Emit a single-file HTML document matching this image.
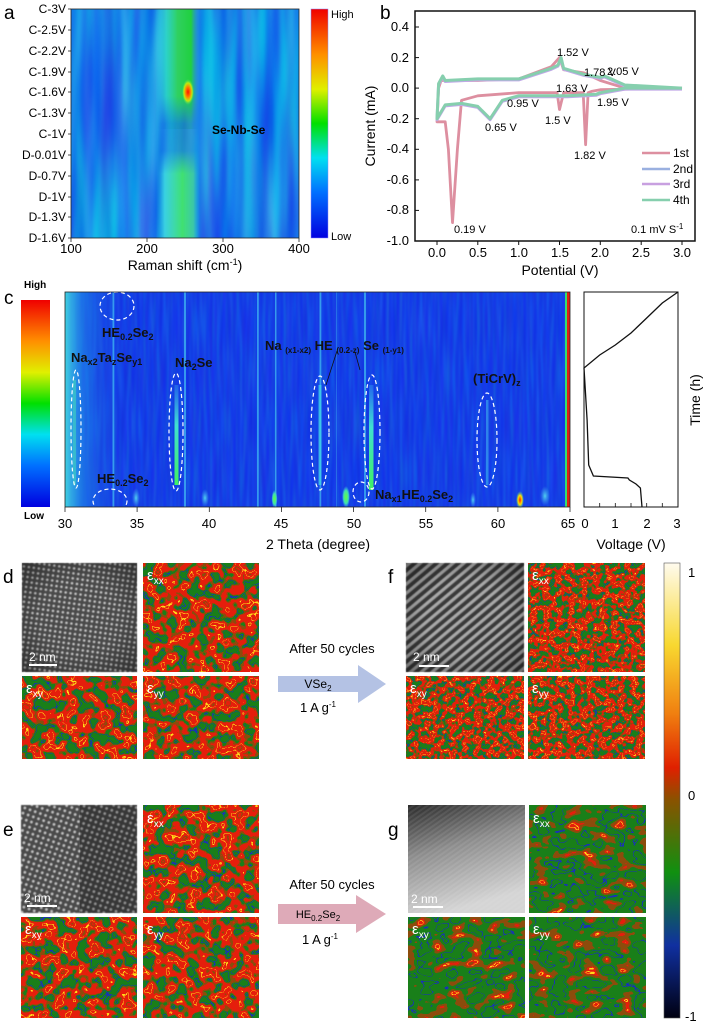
<!DOCTYPE html>
<html><head><meta charset="utf-8"><style>
html,body{margin:0;padding:0;background:#fff;}
svg{display:block;font-family:"Liberation Sans",sans-serif;}
filter{color-interpolation-filters:sRGB;}
</style></head><body>
<svg width="705" height="1024" viewBox="0 0 705 1024" xmlns="http://www.w3.org/2000/svg">
<defs>
<linearGradient id="jet" x1="0" y1="1" x2="0" y2="0">
<stop offset="0" stop-color="#0000e0"/><stop offset="0.2" stop-color="#0070ff"/><stop offset="0.35" stop-color="#00e0f0"/><stop offset="0.5" stop-color="#00e000"/><stop offset="0.65" stop-color="#e0f000"/><stop offset="0.8" stop-color="#ff9000"/><stop offset="1" stop-color="#f00000"/>
</linearGradient>
<linearGradient id="scb" x1="0" y1="0" x2="0" y2="1">
<stop offset="0" stop-color="#fffbee"/><stop offset="0.18" stop-color="#f8d830"/><stop offset="0.33" stop-color="#f08010"/><stop offset="0.45" stop-color="#e02000"/><stop offset="0.52" stop-color="#8a5200"/><stop offset="0.68" stop-color="#109010"/><stop offset="0.84" stop-color="#1030a0"/><stop offset="1" stop-color="#000010"/>
</linearGradient>
<filter id="blueA" x="0" y="0" width="1" height="1" color-interpolation-filters="sRGB">
<feTurbulence type="fractalNoise" baseFrequency="0.07 0.006" numOctaves="2" seed="3"/>
<feComponentTransfer><feFuncR type="table" tableValues="0.0 0.05 0.15 0.3"/><feFuncG type="table" tableValues="0.2 0.4 0.65 0.85"/><feFuncB type="table" tableValues="0.85 0.9 0.92 0.95"/><feFuncA type="linear" slope="0" intercept="1"/></feComponentTransfer>
</filter>
<filter id="blueC" x="0" y="0" width="1" height="1" color-interpolation-filters="sRGB">
<feTurbulence type="fractalNoise" baseFrequency="0.3 0.02" numOctaves="1" seed="5"/>
<feComponentTransfer><feFuncR type="table" tableValues="0.05 0.08 0.12"/><feFuncG type="table" tableValues="0.15 0.25 0.4"/><feFuncB type="table" tableValues="0.85 0.9 0.95"/><feFuncA type="linear" slope="0" intercept="1"/></feComponentTransfer>
</filter>
<filter id="strain" x="0" y="0" width="1" height="1" color-interpolation-filters="sRGB">
<feTurbulence type="fractalNoise" baseFrequency="0.09" numOctaves="2" seed="7"/>
<feColorMatrix type="matrix" values="1 0 0 0 0  1 0 0 0 0  1 0 0 0 0  0 0 0 0 1"/>
<feComponentTransfer>
<feFuncR type="discrete" tableValues=".1 .1 .1 .1 .1 .1 .1 .1 .1 .1 .1 .1 .1 .1 .1 .1 .1 .1 .55 .55 .9 .9 .9 .9 .9 1 .9 .9 .9 .9 .55 .55 .9 .9 .9 .9 .9 .9 .9 .9"/>
<feFuncG type="discrete" tableValues=".5 .5 .5 .5 .5 .5 .5 .5 .5 .5 .5 .5 .5 .5 .5 .2 .5 .5 .3 .3 .12 .12 .12 .12 .12 .85 .12 .12 .12 .12 .3 .3 .12 .12 .12 .12 .12 .12 .12 .12"/>
<feFuncB type="discrete" tableValues=".1 .1 .1 .1 .1 .1 .1 .1 .1 .1 .1 .1 .1 .1 .1 .7 .1 .1 .05 .05 .05 .05 .05 .05 .05 .1 .05 .05 .05 .05 .05 .05 .05 .05 .05 .05 .05 .05 .05 .05"/>
</feComponentTransfer>
</filter>
<filter id="strainF" x="0" y="0" width="1" height="1" color-interpolation-filters="sRGB">
<feTurbulence type="fractalNoise" baseFrequency="0.16" numOctaves="2" seed="11"/>
<feColorMatrix type="matrix" values="1 0 0 0 0  1 0 0 0 0  1 0 0 0 0  0 0 0 0 1"/>
<feComponentTransfer>
<feFuncR type="discrete" tableValues=".1 .1 .1 .1 .1 .1 .1 .1 .1 .1 .1 .1 .1 .1 .1 .1 .1 .1 .55 .55 .9 .9 .9 .9 .9 1 .9 .9 .9 .9 .55 .55 .9 .9 .9 .9 .9 .9 .9 .9"/>
<feFuncG type="discrete" tableValues=".5 .5 .5 .5 .5 .5 .5 .5 .5 .5 .5 .5 .5 .5 .5 .2 .5 .5 .3 .3 .12 .12 .12 .12 .12 .85 .12 .12 .12 .12 .3 .3 .12 .12 .12 .12 .12 .12 .12 .12"/>
<feFuncB type="discrete" tableValues=".1 .1 .1 .1 .1 .1 .1 .1 .1 .1 .1 .1 .1 .1 .1 .7 .1 .1 .05 .05 .05 .05 .05 .05 .05 .1 .05 .05 .05 .05 .05 .05 .05 .05 .05 .05 .05 .05 .05 .05"/>
</feComponentTransfer>
</filter>
<filter id="strainG" x="0" y="0" width="1" height="1" color-interpolation-filters="sRGB">
<feTurbulence type="fractalNoise" baseFrequency="0.06 0.1" numOctaves="2" seed="4"/>
<feColorMatrix type="matrix" values="1 0 0 0 0  1 0 0 0 0  1 0 0 0 0  0 0 0 0 1"/>
<feComponentTransfer>
<feFuncR type="discrete" tableValues=".1 .1 .1 .1 .1 .1 .1 .1 .1 .1 .1 .1 .1 .1 .1 .1 .1 .1 .1 .1 .1 .1 .1 .55 .55 .55 .55 .55 .9 .9 1 .9 .9 .9 .55 .55 .55 .55 .55 .55"/>
<feFuncG type="discrete" tableValues=".5 .5 .5 .5 .5 .5 .5 .5 .5 .5 .5 .5 .5 .5 .5 .5 .2 .5 .5 .5 .5 .5 .5 .3 .3 .3 .3 .3 .12 .12 .85 .12 .12 .12 .3 .3 .3 .3 .3 .3"/>
<feFuncB type="discrete" tableValues=".1 .1 .1 .1 .1 .1 .1 .1 .1 .1 .1 .1 .1 .1 .1 .1 .7 .1 .1 .1 .1 .1 .1 .05 .05 .05 .05 .05 .05 .05 .1 .05 .05 .05 .05 .05 .05 .05 .05 .05"/>
</feComponentTransfer>
</filter>
<filter id="soft" color-interpolation-filters="sRGB"><feGaussianBlur stdDeviation="0.6"/></filter>
<pattern id="dotsD" width="5" height="5" patternUnits="userSpaceOnUse" patternTransform="rotate(8)"><rect width="5" height="5" fill="#4a4a4a"/><circle cx="2.5" cy="2.5" r="1.3" fill="#c8c8c8"/></pattern>
<pattern id="dotsE" width="5.5" height="5.5" patternUnits="userSpaceOnUse" patternTransform="rotate(20)"><rect width="5.5" height="5.5" fill="#4a4a4a"/><circle cx="2.7" cy="2.7" r="1.4" fill="#c0c0c0"/></pattern>
<pattern id="strF" width="7" height="7" patternUnits="userSpaceOnUse" patternTransform="rotate(-40)"><rect width="7" height="7" fill="#3a3a3a"/><rect width="7" height="3.2" fill="#a8a8a8"/></pattern>
<pattern id="strG" width="4" height="4" patternUnits="userSpaceOnUse" patternTransform="rotate(-35)"><rect width="4" height="4" fill="#000" fill-opacity="0.12"/><rect width="4" height="2" fill="#fff" fill-opacity="0.08"/></pattern>
<linearGradient id="gBg" x1="0" y1="0" x2="0.3" y2="1"><stop offset="0" stop-color="#303030"/><stop offset="0.45" stop-color="#a0a0a0"/><stop offset="1" stop-color="#f2f2f2"/></linearGradient>
<radialGradient id="vig" cx="0.5" cy="0.5" r="0.7"><stop offset="0.5" stop-color="#000" stop-opacity="0"/><stop offset="1" stop-color="#000" stop-opacity="0.35"/></radialGradient>
<linearGradient id="bandTop" x1="0" y1="0" x2="1" y2="0"><stop offset="0" stop-color="#30d0e0" stop-opacity="0"/><stop offset="0.25" stop-color="#30e0c0" stop-opacity="0.8"/><stop offset="0.5" stop-color="#30d060"/><stop offset="0.8" stop-color="#20d040"/><stop offset="1" stop-color="#30c0e0" stop-opacity="0"/></linearGradient>
<linearGradient id="bandBot" x1="0" y1="0" x2="1" y2="0"><stop offset="0" stop-color="#30d0e0" stop-opacity="0"/><stop offset="0.2" stop-color="#40e0e0" stop-opacity="0.85"/><stop offset="0.6" stop-color="#40e070"/><stop offset="0.85" stop-color="#40d0a0" stop-opacity="0.9"/><stop offset="1" stop-color="#30c0e0" stop-opacity="0"/></linearGradient>
<linearGradient id="bandMask" x1="0" y1="0" x2="0" y2="1"><stop offset="0" stop-color="#fff"/><stop offset="0.38" stop-color="#fff"/><stop offset="0.5" stop-color="#444"/><stop offset="0.62" stop-color="#444"/><stop offset="0.72" stop-color="#fff"/><stop offset="1" stop-color="#fff"/></linearGradient>
<mask id="bm"><rect x="71" y="9" width="228" height="229" fill="url(#bandMask)"/></mask>
<radialGradient id="hot"><stop offset="0" stop-color="#ff1000"/><stop offset="0.4" stop-color="#ff8000"/><stop offset="0.7" stop-color="#e0f000" stop-opacity="0.8"/><stop offset="1" stop-color="#40e080" stop-opacity="0"/></radialGradient>
<linearGradient id="cLeft" x1="0" y1="0" x2="1" y2="0"><stop offset="0" stop-color="#40d0e0"/><stop offset="0.3" stop-color="#2090e8" stop-opacity="0.6"/><stop offset="1" stop-color="#1a40e0" stop-opacity="0"/></linearGradient>
<linearGradient id="streak" x1="0" y1="0" x2="0" y2="1"><stop offset="0" stop-color="#40c0f0" stop-opacity="0.3"/><stop offset="0.4" stop-color="#40e0d0"/><stop offset="1" stop-color="#40f060"/></linearGradient>
<radialGradient id="spotR"><stop offset="0" stop-color="#ff2000"/><stop offset="0.5" stop-color="#ffe000"/><stop offset="1" stop-color="#40e0a0" stop-opacity="0"/></radialGradient>
<radialGradient id="spotG"><stop offset="0" stop-color="#60ff40"/><stop offset="0.6" stop-color="#40e0b0"/><stop offset="1" stop-color="#40c0f0" stop-opacity="0"/></radialGradient>
<radialGradient id="spotC"><stop offset="0" stop-color="#50d0f0"/><stop offset="1" stop-color="#40a0f0" stop-opacity="0"/></radialGradient>
</defs>

<!-- ===== Panel a ===== -->
<text x="4" y="19" font-size="19">a</text>
<rect x="71" y="9" width="228" height="229" filter="url(#blueA)"/>
<g mask="url(#bm)">
<rect x="155" y="9" width="45" height="120" fill="url(#bandTop)"/>
<rect x="156" y="129" width="44" height="109" fill="url(#bandBot)"/>
</g>
<ellipse cx="188" cy="92" rx="6" ry="13" fill="url(#hot)"/>
<rect x="71" y="9" width="228" height="229" fill="none" stroke="#222" stroke-width="0.8"/>
<text x="212" y="134" font-size="12" font-weight="bold">Se-Nb-Se</text>
<g font-size="12" text-anchor="end">
<text x="66" y="13">C-3V</text><text x="66" y="34">C-2.5V</text><text x="66" y="55">C-2.2V</text><text x="66" y="76">C-1.9V</text><text x="66" y="96">C-1.6V</text><text x="66" y="117">C-1.3V</text><text x="66" y="138">C-1V</text><text x="66" y="159">D-0.01V</text><text x="66" y="180">D-0.7V</text><text x="66" y="201">D-1V</text><text x="66" y="221">D-1.3V</text><text x="66" y="242">D-1.6V</text>
</g>
<g stroke="#222" stroke-width="0.8">
<line x1="68" y1="9" x2="71" y2="9"/><line x1="68" y1="30" x2="71" y2="30"/><line x1="68" y1="51" x2="71" y2="51"/><line x1="68" y1="72" x2="71" y2="72"/><line x1="68" y1="92" x2="71" y2="92"/><line x1="68" y1="113" x2="71" y2="113"/><line x1="68" y1="134" x2="71" y2="134"/><line x1="68" y1="155" x2="71" y2="155"/><line x1="68" y1="176" x2="71" y2="176"/><line x1="68" y1="197" x2="71" y2="197"/><line x1="68" y1="217" x2="71" y2="217"/><line x1="68" y1="238" x2="71" y2="238"/>
<line x1="71" y1="238" x2="71" y2="242"/><line x1="147" y1="238" x2="147" y2="242"/><line x1="223" y1="238" x2="223" y2="242"/><line x1="299" y1="238" x2="299" y2="242"/>
</g>
<g font-size="13" text-anchor="middle"><text x="71" y="253">100</text><text x="147" y="253">200</text><text x="223" y="253">300</text><text x="299" y="253">400</text></g>
<text x="185" y="270" font-size="14" text-anchor="middle">Raman shift (cm<tspan font-size="9" dy="-5">-1</tspan><tspan dy="5">)</tspan></text>
<rect x="311" y="9" width="17" height="229" fill="url(#jet)" stroke="#88f" stroke-width="0.5"/>
<text x="331" y="18" font-size="11">High</text>
<text x="331" y="240" font-size="11">Low</text>

<!-- ===== Panel b ===== -->
<text x="380" y="19" font-size="19">b</text>
<rect x="415" y="11" width="280" height="230" fill="none" stroke="#111" stroke-width="1.5"/>
<g font-size="13" text-anchor="end">
<text x="409" y="31">0.4</text><text x="409" y="62">0.2</text><text x="409" y="92">0.0</text><text x="409" y="123">-0.2</text><text x="409" y="153">-0.4</text><text x="409" y="184">-0.6</text><text x="409" y="214">-0.8</text><text x="409" y="245">-1.0</text>
</g>
<g stroke="#111" stroke-width="1">
<line x1="415" y1="27" x2="419" y2="27"/><line x1="415" y1="57.6" x2="419" y2="57.6"/><line x1="415" y1="88.1" x2="419" y2="88.1"/><line x1="415" y1="118.7" x2="419" y2="118.7"/><line x1="415" y1="149.3" x2="419" y2="149.3"/><line x1="415" y1="179.9" x2="419" y2="179.9"/><line x1="415" y1="210.4" x2="419" y2="210.4"/>
<line x1="437" y1="241" x2="437" y2="245"/><line x1="477.8" y1="241" x2="477.8" y2="245"/><line x1="518.7" y1="241" x2="518.7" y2="245"/><line x1="559.5" y1="241" x2="559.5" y2="245"/><line x1="600.3" y1="241" x2="600.3" y2="245"/><line x1="641.2" y1="241" x2="641.2" y2="245"/><line x1="682" y1="241" x2="682" y2="245"/>
</g>
<g font-size="13" text-anchor="middle"><text x="437" y="257">0.0</text><text x="478" y="257">0.5</text><text x="519" y="257">1.0</text><text x="560" y="257">1.5</text><text x="600" y="257">2.0</text><text x="641" y="257">2.5</text><text x="682" y="257">3.0</text></g>
<text x="560" y="275" font-size="14" text-anchor="middle">Potential (V)</text>
<text transform="translate(375,126) rotate(-90)" font-size="14" text-anchor="middle">Current (mA)</text>
<path d="M682,88.1 L600.3,89.7 L592.2,91.2 L588.1,92.7 L585.6,144.7 L583.2,92.7 L563.6,92.7 L559.5,109.5 L557.1,92.7 L518.7,92.7 L477.8,95.8 L461.5,100.3 L457.4,149.3 L452.5,222.6 L448.4,149.3 L445.2,121.8 L437,121.8 L438.6,88.1 L441.1,80.5 L477.8,80.5 L518.7,78.9 L551.3,66.7 L559.5,57.6 L563.6,69.8 L584,72.9 L600.3,80.5 L624.8,88.1 L682,88.1" fill="none" stroke="#dd8fa0" stroke-width="2.8" stroke-linejoin="round"/>
<path d="M682,88.1 L624.8,88.1 L600.3,92.7 L596.3,94.2 L567.7,95.8 L518.7,95.8 L502.3,100.3 L490.1,118.7 L477.8,106.4 L461.5,103.4 L445.2,104.9 L437,118.7 L438.6,83.6 L442.7,75.9 L445.2,80.5 L477.8,78.9 L518.7,78.9 L551.3,68.3 L557.9,65.2 L561.1,57.6 L563.6,68.3 L584,74.4 L600.3,77.4 L604.4,75.9 L624.8,85 L682,88.1" fill="none" stroke="#c0a8e8" stroke-width="3" stroke-linejoin="round" transform="translate(0,1)"/>
<path d="M682,88.1 L624.8,88.1 L600.3,92.7 L596.3,94.2 L567.7,95.8 L518.7,95.8 L502.3,100.3 L490.1,118.7 L477.8,106.4 L461.5,103.4 L445.2,104.9 L437,118.7 L438.6,83.6 L442.7,75.9 L445.2,80.5 L477.8,78.9 L518.7,78.9 L551.3,68.3 L557.9,65.2 L561.1,57.6 L563.6,68.3 L584,74.4 L600.3,77.4 L604.4,75.9 L624.8,85 L682,88.1" fill="none" stroke="#86cfae" stroke-width="3" stroke-linejoin="round"/>
<g font-size="11">
<text x="557" y="56">1.52 V</text><text x="584" y="76">1.78 V</text><text x="607" y="75">2.05 V</text><text x="556" y="92">1.63 V</text><text x="507" y="107">0.95 V</text><text x="597" y="106">1.95 V</text><text x="485" y="131">0.65 V</text><text x="545" y="124">1.5 V</text><text x="574" y="159">1.82 V</text><text x="454" y="233">0.19 V</text><text x="631" y="233">0.1 mV S<tspan font-size="8" dy="-4">-1</tspan></text>
</g>
<g stroke-width="2.5"><line x1="642" y1="153" x2="670" y2="153" stroke="#dd8fa0"/><line x1="642" y1="169" x2="670" y2="169" stroke="#9ab0e0"/><line x1="642" y1="184" x2="670" y2="184" stroke="#c8a0e0"/><line x1="642" y1="200" x2="670" y2="200" stroke="#86cfae"/></g>
<g font-size="12"><text x="673" y="157">1st</text><text x="673" y="173">2nd</text><text x="673" y="188">3rd</text><text x="673" y="204">4th</text></g>

<!-- ===== Panel c ===== -->
<text x="4" y="304" font-size="19">c</text>
<text x="24" y="288" font-size="10" font-weight="bold">High</text>
<rect x="21" y="300" width="29" height="207" fill="url(#jet)"/>
<text x="24" y="519" font-size="10" font-weight="bold">Low</text>
<rect x="65" y="292" width="505" height="215" filter="url(#blueC)"/>
<rect x="65" y="292" width="60" height="215" fill="url(#cLeft)"/>
<g fill="#40b8f0" opacity="0.75">
<rect x="112.5" y="292" width="1.8" height="215"/><rect x="184" y="292" width="2" height="215"/><rect x="257" y="292" width="1.8" height="215"/><rect x="275" y="292" width="1.5" height="215"/><rect x="319.5" y="292" width="1.8" height="215"/><rect x="336" y="292" width="1" height="215" opacity="0.5"/><rect x="364" y="292" width="2" height="215"/>
</g>
<rect x="174.5" y="385" width="4" height="100" fill="url(#streak)"/>
<rect x="369" y="385" width="4.5" height="105" fill="url(#streak)"/>
<rect x="318.5" y="385" width="3" height="100" fill="#40d8e8" opacity="0.7"/>
<rect x="486" y="400" width="2.5" height="85" fill="#40b0f0" opacity="0.6"/>
<rect x="73" y="380" width="3" height="105" fill="#40d0c0" opacity="0.6"/>
<ellipse cx="274.5" cy="499" rx="3" ry="9" fill="url(#spotG)"/>
<ellipse cx="346" cy="497" rx="4" ry="11" fill="url(#spotG)"/>
<ellipse cx="520" cy="500" rx="4" ry="9" fill="url(#spotR)"/>
<ellipse cx="545" cy="496" rx="5" ry="10" fill="url(#spotC)"/>
<ellipse cx="136" cy="498" rx="4" ry="10" fill="url(#spotC)"/>
<ellipse cx="205" cy="498" rx="4" ry="9" fill="url(#spotC)"/>
<ellipse cx="473" cy="500" rx="3" ry="8" fill="url(#spotC)"/>
<rect x="565" y="292" width="2" height="215" fill="#30e070"/><rect x="567" y="292" width="3" height="215" fill="#e02010"/>
<g fill="none" stroke="#fff" stroke-width="1.2" stroke-dasharray="4,3">
<ellipse cx="117" cy="306" rx="17" ry="14"/><ellipse cx="76" cy="429" rx="5" ry="59"/><ellipse cx="176" cy="432" rx="7" ry="59"/><ellipse cx="320" cy="433" rx="9" ry="57"/><ellipse cx="372" cy="432" rx="8" ry="57"/><ellipse cx="487" cy="440" rx="10" ry="47"/><ellipse cx="110" cy="501" rx="17" ry="12"/><ellipse cx="361" cy="492" rx="8" ry="10"/>
</g>
<rect x="65" y="292" width="505" height="215" fill="none" stroke="#222" stroke-width="0.8"/>
<g font-size="13" font-weight="bold" fill="#111">
<text x="102" y="337">HE<tspan font-size="9" dy="3">0.2</tspan><tspan dy="-3">Se</tspan><tspan font-size="9" dy="3">2</tspan></text>
<text x="71" y="362">Na<tspan font-size="9" dy="3">x2</tspan><tspan dy="-3">Ta</tspan><tspan font-size="9" dy="3">z</tspan><tspan dy="-3">Se</tspan><tspan font-size="9" dy="3">y1</tspan></text>
<text x="175" y="367">Na<tspan font-size="9" dy="3">2</tspan><tspan dy="-3">Se</tspan></text>
<text x="265" y="350">Na <tspan font-size="8" dy="3">(x1-x2)</tspan><tspan dy="-3"> HE </tspan><tspan font-size="8" dy="3">(0.2-z)</tspan><tspan dy="-3"> Se </tspan><tspan font-size="8" dy="3">(1-y1)</tspan></text>
<text x="473" y="383">(TiCrV)<tspan font-size="9" dy="3">z</tspan></text>
<text x="97" y="483">HE<tspan font-size="9" dy="3">0.2</tspan><tspan dy="-3">Se</tspan><tspan font-size="9" dy="3">2</tspan></text>
<text x="375" y="499">Na<tspan font-size="9" dy="3">x1</tspan><tspan dy="-3">HE</tspan><tspan font-size="9" dy="3">0.2</tspan><tspan dy="-3">Se</tspan><tspan font-size="9" dy="3">2</tspan></text>
</g>
<g stroke="#111" stroke-width="0.8"><line x1="337" y1="351" x2="326" y2="385"/><line x1="355" y1="352" x2="360" y2="370"/></g>
<g stroke="#222" stroke-width="0.8">
<line x1="65" y1="507" x2="65" y2="512"/><line x1="137.1" y1="507" x2="137.1" y2="512"/><line x1="209.3" y1="507" x2="209.3" y2="512"/><line x1="281.4" y1="507" x2="281.4" y2="512"/><line x1="353.6" y1="507" x2="353.6" y2="512"/><line x1="425.7" y1="507" x2="425.7" y2="512"/><line x1="497.9" y1="507" x2="497.9" y2="512"/><line x1="570" y1="507" x2="570" y2="512"/>
</g>
<g font-size="13" text-anchor="middle"><text x="65" y="528">30</text><text x="137" y="528">35</text><text x="209" y="528">40</text><text x="281" y="528">45</text><text x="354" y="528">50</text><text x="426" y="528">55</text><text x="498" y="528">60</text><text x="568" y="528">65</text></g>
<text x="318" y="549" font-size="14" text-anchor="middle">2 Theta (degree)</text>
<rect x="584" y="292" width="94" height="215" fill="#fff" stroke="#111" stroke-width="1"/>
<path d="M642,507 L640.4,488 L636,484 L629.4,480 L627.9,478 L593.4,476 L588.7,465 L587.1,420 L584,368 L599.7,355 L615.3,345 L631,333 L646.7,318 L662.3,303 L678,292" fill="none" stroke="#111" stroke-width="1.3"/>
<g stroke="#111" stroke-width="0.8"><line x1="599.7" y1="507" x2="599.7" y2="503"/><line x1="615.3" y1="507" x2="615.3" y2="503"/><line x1="631" y1="507" x2="631" y2="503"/><line x1="646.7" y1="507" x2="646.7" y2="503"/><line x1="662.3" y1="507" x2="662.3" y2="503"/></g>
<g font-size="13" text-anchor="middle"><text x="585" y="528">0</text><text x="615" y="528">1</text><text x="647" y="528">2</text><text x="677" y="528">3</text></g>
<text x="631" y="549" font-size="14" text-anchor="middle">Voltage (V)</text>
<text transform="translate(700,400) rotate(-90)" font-size="14" text-anchor="middle">Time (h)</text>

<!-- ===== Panels d-g ===== -->
<text x="3" y="583" font-size="19">d</text>
<rect x="22" y="563" width="115" height="109" fill="url(#dotsD)" filter="url(#soft)"/>
<rect x="22" y="563" width="115" height="109" fill="url(#vig)"/>
<rect x="143" y="563" width="116" height="109" filter="url(#strain)"/>
<rect x="22" y="676" width="115" height="83" filter="url(#strain)"/>
<rect x="143" y="676" width="116" height="83" filter="url(#strain)"/>

<text x="388" y="583" font-size="19">f</text>
<rect x="406" y="563" width="118" height="109" fill="url(#strF)" filter="url(#soft)"/>
<rect x="406" y="563" width="118" height="109" fill="url(#vig)"/>
<rect x="528" y="563" width="117" height="109" filter="url(#strainF)"/>
<rect x="406" y="676" width="118" height="83" filter="url(#strainF)"/>
<rect x="528" y="676" width="117" height="83" filter="url(#strainF)"/>

<text x="3" y="836" font-size="19">e</text>
<rect x="21" y="805" width="116" height="108" fill="url(#dotsE)" filter="url(#soft)"/>
<rect x="80" y="805" width="57" height="108" fill="#000" opacity="0.25"/>
<rect x="143" y="805" width="116" height="108" filter="url(#strain)"/>
<rect x="21" y="917" width="116" height="101" filter="url(#strain)"/>
<rect x="143" y="917" width="116" height="101" filter="url(#strain)"/>

<text x="388" y="836" font-size="19">g</text>
<rect x="408" y="805" width="117" height="108" fill="url(#gBg)"/>
<rect x="408" y="805" width="117" height="108" fill="url(#strG)"/>
<rect x="529" y="805" width="117" height="108" filter="url(#strainG)"/>
<rect x="408" y="917" width="117" height="101" filter="url(#strainG)"/>
<rect x="529" y="917" width="117" height="101" filter="url(#strainG)"/>

<g fill="#fff" font-size="15">
<text x="147" y="580">ε<tspan font-size="10" dy="4">xx</tspan></text>
<text x="26" y="693">ε<tspan font-size="10" dy="4">xy</tspan></text>
<text x="147" y="693">ε<tspan font-size="10" dy="4">yy</tspan></text>
<text x="532" y="580">ε<tspan font-size="10" dy="4">xx</tspan></text>
<text x="410" y="693">ε<tspan font-size="10" dy="4">xy</tspan></text>
<text x="532" y="693">ε<tspan font-size="10" dy="4">yy</tspan></text>
<text x="147" y="823">ε<tspan font-size="10" dy="4">xx</tspan></text>
<text x="25" y="934">ε<tspan font-size="10" dy="4">xy</tspan></text>
<text x="147" y="934">ε<tspan font-size="10" dy="4">yy</tspan></text>
<text x="533" y="823">ε<tspan font-size="10" dy="4">xx</tspan></text>
<text x="412" y="934">ε<tspan font-size="10" dy="4">xy</tspan></text>
<text x="533" y="934">ε<tspan font-size="10" dy="4">yy</tspan></text>
<text x="29" y="661" font-size="12">2 nm</text>
<text x="413" y="661" font-size="12">2 nm</text>
<text x="24" y="902" font-size="12">2 nm</text>
<text x="411" y="903" font-size="12">2 nm</text>
</g>
<g fill="#fff"><rect x="29" y="664" width="28" height="2"/><rect x="419" y="665" width="30" height="2"/><rect x="27" y="905" width="30" height="2"/><rect x="413" y="906" width="30" height="2"/></g>

<!-- arrows -->
<polygon points="278,676 358,676 358,665 386,684 358,703 358,692 278,692" fill="#b4c2e4"/>
<text x="332" y="653" font-size="13" text-anchor="middle">After 50 cycles</text>
<text x="318" y="688" font-size="12" text-anchor="middle">VSe<tspan font-size="8" dy="3">2</tspan></text>
<text x="318" y="712" font-size="13" text-anchor="middle">1 A g<tspan font-size="8" dy="-5">-1</tspan></text>
<polygon points="278,904 356,904 356,895 386,914 356,933 356,924 278,924" fill="#deaab8"/>
<text x="332" y="889" font-size="13" text-anchor="middle">After 50 cycles</text>
<text x="318" y="918" font-size="11" text-anchor="middle">HE<tspan font-size="8" dy="3">0.2</tspan><tspan dy="-3">Se</tspan><tspan font-size="8" dy="3">2</tspan></text>
<text x="320" y="944" font-size="13" text-anchor="middle">1 A g<tspan font-size="8" dy="-5">-1</tspan></text>

<!-- colorbar -->
<rect x="664" y="563" width="16" height="455" fill="url(#scb)" stroke="#555" stroke-width="0.6"/>
<g font-size="13"><text x="688" y="577">1</text><text x="688" y="800">0</text><text x="685" y="1021">-1</text></g>
</svg>
</body></html>
